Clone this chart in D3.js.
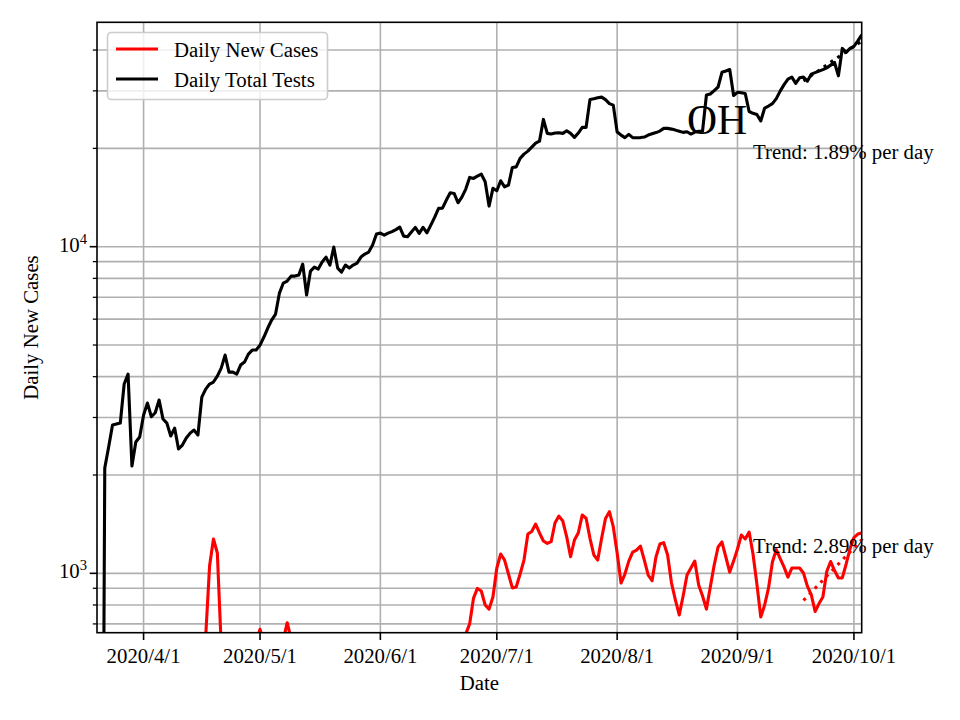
<!DOCTYPE html>
<html>
<head>
<meta charset="utf-8">
<script src="https://cdn.jsdelivr.net/npm/d3@7"></script>
<style>
  html, body { margin: 0; padding: 0; background: #fff; }
  svg { display: block; font-family: "Liberation Serif", "Times New Roman", serif; }
</style>
</head>
<body>
<svg id="chart" width="960" height="720"></svg>
<script>
// ---------------- data ----------------
const startDate = "2020-03-20";          // first daily observation
const endDate = "2020-10-03";            // last daily observation
const stateName = "OH";
const seriesNames = ["Daily New Cases", "Daily Total Tests"];
const seriesColors = ["#ff0000", "#000000"];

const dailyCases = [
  40, 60, 80, 120, 150, 200, 250, 300, 330, 350,
  380, 400, 420, 450, 380, 420, 500, 480, 430, 460,
  520, 480, 550, 500, 560, 540, 500, 560, 640, 1053,
  1274, 1154, 600, 560, 520, 600, 580, 500, 560, 600,
  580, 620, 674, 610, 560, 520, 580, 600, 625, 706,
  630, 560, 520, 500, 560, 540, 480, 520, 500, 470,
  520, 580, 540, 650, 560, 500, 470, 440, 480, 460,
  420, 400, 450, 430, 380, 420, 450, 400, 380, 430,
  460, 420, 380, 450, 480, 440, 500, 520, 480, 540,
  560, 600, 580, 560, 600, 652, 700, 840, 899, 883,
  800, 777, 846, 1038, 1146, 1098, 995, 902, 908, 995,
  1098, 1319, 1343, 1415, 1329, 1256, 1235, 1250, 1428, 1497,
  1446, 1294, 1124, 1265, 1331, 1508, 1474, 1280, 1138, 1098,
  1280, 1472, 1544, 1389, 1154, 934, 995, 1090, 1162, 1178,
  1212, 1098, 988, 949, 1122, 1229, 1241, 1138, 934, 829,
  746, 852, 988, 1038, 1090, 921, 852, 777, 908, 1060,
  1204, 1247, 1122, 1009, 1090, 1187, 1310, 1274, 1338, 1146,
  927, 735, 800, 902, 1083, 1182, 1110, 1045, 974, 1038,
  1038, 1038, 1002, 914, 861, 764, 808, 846, 1013, 1087,
  1020, 968, 968, 1068, 1191, 1287, 1319, 1329
];

const dailyTests = [
  5, 10, 2100, 2436, 2844, 2864, 2884, 3798, 4074, 2130,
  2523, 2614, 3052, 3321, 3016, 3101, 3392, 2968, 2884, 2633,
  2784, 2402, 2470, 2595, 2687, 2745, 2650, 3464, 3665, 3798,
  3852, 4017, 4250, 4658, 4131, 4131, 4074, 4341, 4434, 4691,
  4825, 4825, 4998, 5289, 5636, 5963, 6220, 7211, 7739, 7849,
  8128, 8128, 8186, 8846, 7111, 8420, 8660, 8538, 8974, 9294,
  8783, 9972, 8600, 8360, 8783, 8600, 8783, 8910, 9294, 9493,
  9627, 10113, 10928, 11004, 10851, 11004, 11122, 11280, 11482, 10774,
  10722, 11084, 11458, 10981, 11458, 11028, 11645, 12319, 13100, 13127,
  13889, 14622, 14558, 13630, 14188, 15012, 16298, 16181, 16450, 16684,
  15800, 13316, 15085, 14834, 15913, 15254, 15437, 17484, 17557, 18634,
  19205, 19616, 20180, 20755, 21049, 24530, 22231, 22123, 22277, 22323,
  22231, 22643, 22231, 21611, 22277, 23190, 23190, 28241, 28360, 28560,
  28700, 28200, 27416, 27128, 22435, 21965, 21580, 22071, 21580, 21548,
  21580, 21659, 21965, 22170, 22354, 22592, 23027, 23027, 22909, 22746,
  22560, 22388, 22480, 22123, 22435, 22545, 22592, 29130, 29340, 30063,
  30825, 34185, 34500, 34868, 29030, 29690, 29606, 29436, 25934, 25608,
  25395, 24257, 26580, 26956, 27416, 28400, 29944, 31348, 32584, 33045,
  31610, 32882, 33045, 32128, 33745, 34105, 34470, 34834, 35280, 35960,
  36645, 33340, 40460, 39330, 40460, 41060, 42680, 44500
];

// fitted exponential trends (end points, straight on a log axis)
const casesTrendDates = ["2020-09-18", "2020-10-03"];
const casesTrendValues = [826, 1267];
const testsTrendDates = ["2020-09-18", "2020-10-03"];
const testsTrendValues = [32170, 42620];
const trendLabels = ["Trend: 2.89% per day", "Trend: 1.89% per day"];
const trendLabelDate = "2020-09-05";
const trendLabelValues = [1156, 18550];

const xTickDates = ["2020-04-01", "2020-05-01", "2020-06-01", "2020-07-01", "2020-08-01", "2020-09-01", "2020-10-01"];
const yMajorTicks = [1000, 10000];
const yMinorTicks = [700, 800, 900, 2000, 3000, 4000, 5000, 6000, 7000, 8000, 9000, 20000, 30000, 40000];
const yDomain = [658, 48640];

// ---------------- drawing ----------------
const parse = d3.utcParse("%Y-%m-%d");
const t0 = parse(startDate);
const dates = dailyTests.map((_, i) => d3.utcDay.offset(t0, i));

const L = 97, R = 861.7, T = 22.3, B = 632.7;
const FS = 20.8;

const svg = d3.select("#chart");
const x = d3.scaleUtc().domain([t0, parse(endDate)]).range([L, R]);
const y = d3.scaleLog().domain(yDomain).range([B, T]);

svg.append("defs").append("clipPath").attr("id", "plotclip")
  .append("rect").attr("x", L).attr("y", T).attr("width", R - L).attr("height", B - T);

// grid
const grid = svg.append("g");
grid.selectAll("line.yg").data(yMajorTicks.concat(yMinorTicks)).join("line")
  .attr("x1", L).attr("x2", R).attr("y1", d => y(d)).attr("y2", d => y(d))
  .attr("stroke", "#b0b0b0").attr("stroke-width", 1.6);
grid.selectAll("line.xg").data(xTickDates.map(parse)).join("line")
  .attr("x1", d => x(d)).attr("x2", d => x(d)).attr("y1", T).attr("y2", B)
  .attr("stroke", "#b0b0b0").attr("stroke-width", 1.6);

// lines
const plot = svg.append("g").attr("clip-path", "url(#plotclip)");
const lineGen = d3.line().x(d => x(d[0])).y(d => y(Math.max(d[1], 1e-3)));
const seriesData = [dailyCases, dailyTests];
seriesData.forEach((vals, si) => {
  plot.append("path")
    .datum(vals.map((v, i) => [dates[i], v]))
    .attr("d", lineGen)
    .attr("fill", "none")
    .attr("stroke", seriesColors[si])
    .attr("stroke-width", 3.1)
    .attr("stroke-linejoin", "round")
    .attr("stroke-linecap", "butt");
});
const trends = [
  [casesTrendDates, casesTrendValues],
  [testsTrendDates, testsTrendValues]
];
trends.forEach((tr, si) => {
  plot.append("path")
    .datum(tr[0].map((d, i) => [parse(d), tr[1][i]]))
    .attr("d", lineGen)
    .attr("fill", "none")
    .attr("stroke", seriesColors[si])
    .attr("stroke-width", 3.1)
    .attr("stroke-dasharray", "3.1 5.1");
});

// annotations
svg.append("text").attr("x", 717).attr("y", 134)
  .attr("text-anchor", "middle").attr("font-size", 41.7).attr("fill", "#000")
  .text(stateName);
trendLabels.forEach((txt, i) => {
  svg.append("text").attr("x", x(parse(trendLabelDate))).attr("y", y(trendLabelValues[i]))
    .attr("font-size", FS).attr("fill", "#000").text(txt);
});

// spines
svg.append("rect").attr("x", L).attr("y", T).attr("width", R - L).attr("height", B - T)
  .attr("fill", "none").attr("stroke", "#000").attr("stroke-width", 1.6);

// x axis ticks
const fmt = d => `${d.getUTCFullYear()}/${d.getUTCMonth() + 1}/${d.getUTCDate()}`;
const xt = svg.append("g");
xTickDates.map(parse).forEach(d => {
  xt.append("line").attr("x1", x(d)).attr("x2", x(d)).attr("y1", B).attr("y2", B + 7.3)
    .attr("stroke", "#000").attr("stroke-width", 1.6);
  xt.append("text").attr("x", x(d)).attr("y", B + 30).attr("text-anchor", "middle")
    .attr("font-size", FS).text(fmt(d));
});

// y axis ticks
const yt = svg.append("g");
yMinorTicks.forEach(v => {
  yt.append("line").attr("x1", L - 4.2).attr("x2", L).attr("y1", y(v)).attr("y2", y(v))
    .attr("stroke", "#000").attr("stroke-width", 1.25);
});
yMajorTicks.forEach(v => {
  yt.append("line").attr("x1", L - 7.3).attr("x2", L).attr("y1", y(v)).attr("y2", y(v))
    .attr("stroke", "#000").attr("stroke-width", 1.6);
  const t = yt.append("text").attr("x", L - 10).attr("y", y(v) + 5)
    .attr("text-anchor", "end").attr("font-size", FS);
  t.append("tspan").text("10");
  t.append("tspan").attr("dy", -8).attr("font-size", 14.6).text(String(Math.round(Math.log10(v))));
});

// axis labels
svg.append("text").attr("x", (L + R) / 2).attr("y", 689.5).attr("text-anchor", "middle")
  .attr("font-size", FS).text("Date");
svg.append("text").attr("transform", `translate(38,${(T + B) / 2}) rotate(-90)`)
  .attr("text-anchor", "middle").attr("font-size", FS).text("Daily New Cases");

// legend
const lg = svg.append("g");
lg.append("rect").attr("x", 107.5).attr("y", 32.5).attr("width", 220).attr("height", 67)
  .attr("rx", 4).attr("fill", "#fff").attr("fill-opacity", 0.8)
  .attr("stroke", "#cccccc").attr("stroke-width", 1.6);
seriesNames.forEach((name, i) => {
  const cy = 49 + i * 30;
  lg.append("line").attr("x1", 116).attr("x2", 158).attr("y1", cy).attr("y2", cy)
    .attr("stroke", seriesColors[i]).attr("stroke-width", 3.1);
  lg.append("text").attr("x", 174).attr("y", cy + 7.5).attr("font-size", FS).text(name);
});
</script>
</body>
</html>
